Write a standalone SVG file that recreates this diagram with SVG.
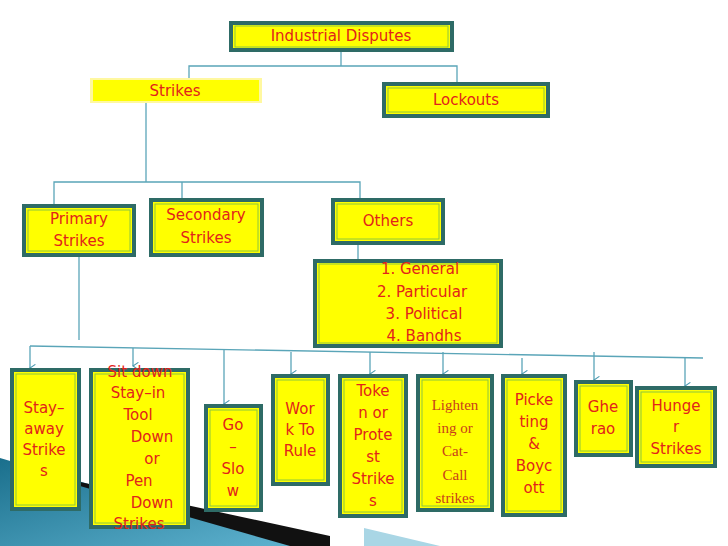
<svg xmlns="http://www.w3.org/2000/svg" width="728" height="546" viewBox="0 0 728 546">
<defs>
<linearGradient id="sw" x1="0" y1="0" x2="1" y2="1"><stop offset="0" stop-color="#1a6f8c"/><stop offset="1" stop-color="#5fb3d0"/></linearGradient>
<marker id="ar" viewBox="0 0 10 10" refX="5" refY="9" markerWidth="9" markerHeight="9" orient="auto-start-reverse" markerUnits="userSpaceOnUse"><path d="M1,3 L5,9 L9,3" fill="none" stroke="#4a9ab0" stroke-width="1.2"/></marker>
</defs>
<style>
.b{fill:#ffff00;stroke:#2e6b66;stroke-width:4}
.i{fill:none;stroke:#8cc63f;stroke-width:1}
.t{font-family:"DejaVu Sans",sans-serif;font-size:15px;fill:#e2231a;text-anchor:middle}
.s{font-family:"Liberation Serif",serif;font-size:15px;fill:#c8401a;text-anchor:middle}
.c line,.c polyline{stroke:#5aa5b8;stroke-width:1.3;fill:none}
</style>
<rect width="728" height="546" fill="#fff"/>
<polygon points="0,458 300,546 0,546" fill="url(#sw)"/>
<polygon points="80,482 330,536 330,546 290,546 80,486" fill="#111"/>
<polygon points="364,528 440,546 364,546" fill="#a9d6e5"/>
<g class="c">
<polyline points="341,50 341,66"/><polyline points="189,79 189,66 457,66 457,83"/>
<line x1="146" y1="102" x2="146" y2="182"/>
<polyline points="54,205 54,182 360,182 360,199"/><line x1="182" y1="182" x2="182" y2="199"/>
<line x1="358" y1="243" x2="358" y2="260"/>
<line x1="79" y1="256" x2="79" y2="340"/>
<line x1="30" y1="346" x2="703" y2="358"/>
<line x1="30" y1="346" x2="30" y2="368" marker-end="url(#ar)"/>
<line x1="133" y1="348" x2="133" y2="366" marker-end="url(#ar)"/>
<line x1="224" y1="349" x2="224" y2="404" marker-end="url(#ar)"/>
<line x1="291" y1="352" x2="291" y2="374" marker-end="url(#ar)"/>
<line x1="370" y1="352" x2="370" y2="374" marker-end="url(#ar)"/>
<line x1="443" y1="352" x2="443" y2="374" marker-end="url(#ar)"/>
<line x1="522" y1="358" x2="522" y2="374" marker-end="url(#ar)"/>
<line x1="594" y1="352" x2="594" y2="380" marker-end="url(#ar)"/>
<line x1="685" y1="357" x2="685" y2="386" marker-end="url(#ar)"/>
</g>
<g id="n-industrial"><rect class="b" x="231" y="23" width="221" height="27"/><rect class="i" x="235" y="26" width="213" height="21"/><text class="t" x="341" y="41">Industrial Disputes</text></g>
<g id="n-strikes"><rect x="90" y="78" width="172" height="25" fill="#fff8a0"/><rect x="93" y="80" width="166" height="21" fill="#ffff00"/><text class="t" x="175" y="96">Strikes</text></g>
<g id="n-lockouts"><rect class="b" x="384" y="84" width="164" height="32"/><rect class="i" x="388" y="88" width="156" height="24"/><text class="t" x="466" y="105">Lockouts</text></g>
<g id="n-primary"><rect class="b" x="24" y="206" width="110" height="49"/><rect class="i" x="28" y="210" width="102" height="41"/><text class="t" x="79" y="224">Primary</text><text class="t" x="79" y="246">Strikes</text></g>
<g id="n-secondary"><rect class="b" x="151" y="200" width="111" height="55"/><rect class="i" x="155" y="204" width="103" height="47"/><text class="t" x="206" y="220">Secondary</text><text class="t" x="206" y="243">Strikes</text></g>
<g id="n-others"><rect class="b" x="333" y="200" width="110" height="43"/><rect class="i" x="337" y="204" width="102" height="35"/><text class="t" x="388" y="226">Others</text></g>
<g id="n-list"><rect class="b" x="315" y="261" width="186" height="85"/><rect class="i" x="319" y="264" width="178" height="79"/>
<text class="t" x="420" y="274">1.  General</text><text class="t" x="422" y="297">2.  Particular</text><text class="t" x="424" y="319">3.    Political</text><text class="t" x="424" y="341">4.     Bandhs</text></g>
<g id="n-stayaway"><rect class="b" x="12" y="370" width="67" height="139"/><rect class="i" x="16" y="374" width="59" height="131"/><text class="t" x="44" y="413">Stay–</text><text class="t" x="44" y="434">away</text><text class="t" x="44" y="455">Strike</text><text class="t" x="44" y="476">s</text></g>
<g id="n-sitdown"><rect class="b" x="91" y="370" width="97" height="157"/><rect class="i" x="95" y="374" width="89" height="149"/>
<text class="t" x="140" y="377">Sit down</text><text class="t" x="138" y="398">Stay–in</text><text class="t" x="138" y="420">Tool</text><text class="t" x="152" y="442">Down</text><text class="t" x="152" y="464">or</text><text class="t" x="139" y="486">Pen</text><text class="t" x="152" y="508">Down</text><text class="t" x="139" y="529">Strikes</text></g>
<g id="n-goslow"><rect class="b" x="206" y="406" width="55" height="104"/><rect class="i" x="210" y="410" width="47" height="96"/><text class="t" x="233" y="430">Go</text><text class="t" x="233" y="452">–</text><text class="t" x="233" y="474">Slo</text><text class="t" x="233" y="496">w</text></g>
<g id="n-work"><rect class="b" x="273" y="376" width="55" height="108"/><rect class="i" x="277" y="380" width="47" height="100"/><text class="t" x="300" y="414">Wor</text><text class="t" x="300" y="435">k To</text><text class="t" x="300" y="456">Rule</text></g>
<g id="n-token"><rect class="b" x="340" y="376" width="66" height="140"/><rect class="i" x="344" y="380" width="58" height="132"/><text class="t" x="373" y="396">Toke</text><text class="t" x="373" y="418">n or</text><text class="t" x="373" y="440">Prote</text><text class="t" x="373" y="462">st</text><text class="t" x="373" y="484">Strike</text><text class="t" x="373" y="506">s</text></g>
<g id="n-lightening"><rect class="b" x="418" y="376" width="74" height="134"/><rect class="i" x="422" y="380" width="66" height="126"/><text class="s" x="455" y="410">Lighten</text><text class="s" x="455" y="433">ing or</text><text class="s" x="455" y="456">Cat-</text><text class="s" x="455" y="480">Call</text><text class="s" x="455" y="503">strikes</text></g>
<g id="n-picketing"><rect class="b" x="503" y="376" width="62" height="139"/><rect class="i" x="507" y="380" width="54" height="131"/><text class="t" x="534" y="405">Picke</text><text class="t" x="534" y="427">ting</text><text class="t" x="534" y="449">&amp;</text><text class="t" x="534" y="471">Boyc</text><text class="t" x="534" y="493">ott</text></g>
<g id="n-gherao"><rect class="b" x="576" y="382" width="55" height="73"/><rect class="i" x="580" y="386" width="47" height="65"/><text class="t" x="603" y="412">Ghe</text><text class="t" x="603" y="434">rao</text></g>
<g id="n-hunger"><rect class="b" x="637" y="388" width="78" height="78"/><rect class="i" x="641" y="392" width="70" height="70"/><text class="t" x="676" y="411">Hunge</text><text class="t" x="676" y="432">r</text><text class="t" x="676" y="454">Strikes</text></g>
</svg>
